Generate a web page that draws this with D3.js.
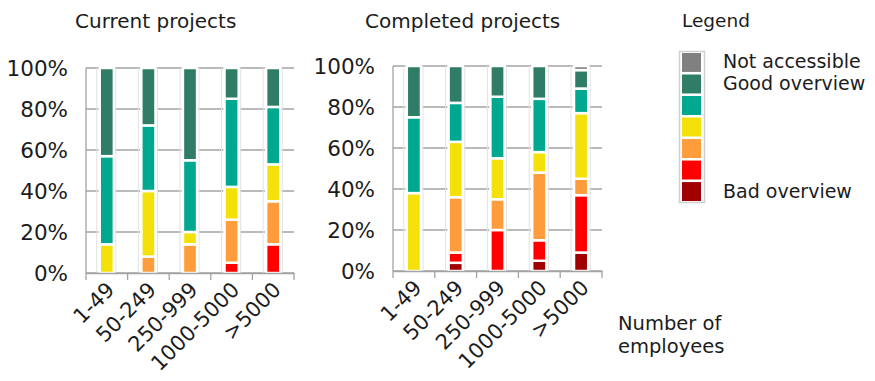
<!DOCTYPE html>
<html>
<head>
<meta charset="utf-8">
<script src="https://cdn.jsdelivr.net/npm/d3@7"></script>
<style>
  body { margin: 0; background: #fff; }
  svg { display: block; font-family: "DejaVu Sans", Verdana, sans-serif; fill: #1c1c1c; }
</style>
</head>
<body>
<svg id="chart" width="875" height="381"></svg>
<script>
// Company size groups
const categories = ["1-49", "50-249", "250-999", "1000-5000", ">5000"];

// Series, bottom to top of each stack (percent of answers)
const seriesNames = ["Bad overview", "red", "orange", "yellow", "teal", "Good overview", "Not accessible"];
const seriesColors = ["#a00000", "#ff0000", "#ff9d3c", "#f5e10a", "#00a88f", "#2f7d66", "#808080"];

// Current projects
const currentBad      = [0, 0, 0, 0, 0];
const currentRed      = [0, 0, 0, 5, 14];
const currentOrange   = [0, 8, 14, 21, 21];
const currentYellow   = [14, 32, 6, 16, 18];
const currentTeal     = [43, 32, 35, 43, 28];
const currentGood     = [43, 28, 45, 15, 19];
const currentNoAccess = [0, 0, 0, 0, 0];

// Completed projects
const completedBad      = [0, 4, 0, 5, 9];
const completedRed      = [0, 5, 20, 10, 28];
const completedOrange   = [0, 27, 15, 33, 8];
const completedYellow   = [38, 27, 20, 10, 32];
const completedTeal     = [37, 19, 30, 26, 12];
const completedGood     = [25, 18, 15, 16, 9];
const completedNoAccess = [0, 0, 0, 0, 2];

const yTicks = [0, 20, 40, 60, 80, 100];
const legendLabels = {0: "Bad overview", 5: "Good overview", 6: "Not accessible"};

const svg = d3.select("#chart");

// build a row-per-category table for d3.stack
function table(cols){
  return categories.map((c, i) => {
    let row = {cat: c};
    seriesNames.forEach((s, k) => row[s] = cols[k][i]);
    return row;
  });
}

function drawPanel(opts){
  const g = svg.append("g");
  const x = d3.scaleBand().domain(categories).range(opts.xr).padding(0);
  const y = d3.scaleLinear().domain([0, 100]).range(opts.yr);
  const barW = x.bandwidth() * 0.34;

  // title
  g.append("text").attr("x", opts.titleX).attr("y", 28)
    .attr("font-size", 20).text(opts.title);

  // horizontal grid
  g.append("g").selectAll("line").data(yTicks).join("line")
    .attr("x1", opts.xr[0]).attr("x2", opts.xr[1])
    .attr("y1", d => y(d)).attr("y2", d => y(d))
    .attr("stroke", "#a3a3a3").attr("stroke-width", 1.3);

  // faint vertical lines beside the bars
  const vx = [];
  categories.forEach(c => {
    const cx = x(c) + x.bandwidth() / 2;
    vx.push(cx - barW / 2 - 3, cx + barW / 2 + 2);
  });
  g.append("g").selectAll("line").data(vx).join("line")
    .attr("x1", d => d).attr("x2", d => d)
    .attr("y1", y(100)).attr("y2", y(0))
    .attr("stroke", "#e2e2e2").attr("stroke-width", 1);

  // y axis line + labels
  g.append("line").attr("x1", opts.xr[0]).attr("x2", opts.xr[0])
    .attr("y1", y(100)).attr("y2", y(0)).attr("stroke", "#a3a3a3").attr("stroke-width", 1.3);
  g.append("g").selectAll("text").data(yTicks).join("text")
    .attr("x", opts.xr[0] - 18).attr("y", d => y(d) + 8)
    .attr("text-anchor", "end").attr("font-size", 21.5)
    .text(d => d + "%");

  // stacked bars
  const stacked = d3.stack().keys(seriesNames)(table(opts.cols));
  g.append("g").selectAll("g").data(stacked).join("g")
    .attr("fill", (d, i) => seriesColors[i])
    .selectAll("rect").data(d => d.filter(p => p[1] > p[0])).join("rect")
    .attr("x", d => x(d.data.cat) + x.bandwidth() / 2 - barW / 2)
    .attr("width", barW)
    .attr("y", d => y(d[1]))
    .attr("height", d => y(d[0]) - y(d[1]))
    .attr("stroke", "#fff").attr("stroke-width", 2.5);

  // x axis: line, ticks at band edges, rotated labels
  const xAxis = g.append("g").attr("transform", `translate(0,${y(0)})`)
    .call(d3.axisBottom(x).tickSize(0).tickFormat(""));
  xAxis.select(".domain").attr("stroke", "#a3a3a3").attr("stroke-width", 1.3);
  const edges = categories.map(c => x(c)).concat([opts.xr[1]]);
  g.append("g").selectAll("line").data(edges).join("line")
    .attr("x1", d => d).attr("x2", d => d)
    .attr("y1", y(0)).attr("y2", y(0) + 7)
    .attr("stroke", "#a3a3a3").attr("stroke-width", 1.3);
  g.append("g").selectAll("text").data(categories).join("text")
    .attr("transform", c => `translate(${x(c) + x.bandwidth() / 2 + 9},${y(0) + 18}) rotate(-45)`)
    .attr("text-anchor", "end").attr("font-size", 21)
    .text(c => c);
}

drawPanel({
  title: "Current projects", titleX: 75,
  xr: [86, 294], yr: [273, 68],
  cols: [currentBad, currentRed, currentOrange, currentYellow, currentTeal, currentGood, currentNoAccess]
});
drawPanel({
  title: "Completed projects", titleX: 365,
  xr: [393, 602], yr: [271, 66],
  cols: [completedBad, completedRed, completedOrange, completedYellow, completedTeal, completedGood, completedNoAccess]
});

// legend
const lg = svg.append("g");
lg.append("text").attr("x", 682).attr("y", 27).attr("font-size", 18.5).text("Legend");
lg.append("rect").attr("x", 679.5).attr("y", 51.5).attr("width", 25).attr("height", 151)
  .attr("fill", "#fff").attr("stroke", "#d0d0d0").attr("stroke-width", 1.5);
const order = d3.range(seriesNames.length).reverse();
const ly = d3.scaleBand().domain(order).range([53, 201]).paddingInner(0.12);
lg.selectAll("rect.sw").data(order).join("rect").attr("class", "sw")
  .attr("x", 682).attr("y", d => ly(d)).attr("width", 19).attr("height", ly.bandwidth())
  .attr("fill", d => seriesColors[d]);
lg.selectAll("text.lab").data(order.filter(d => legendLabels[d])).join("text").attr("class", "lab")
  .attr("x", 723).attr("y", d => ly(d) + ly.bandwidth() / 2 + 6)
  .attr("font-size", 19).text(d => legendLabels[d]);

// axis caption
svg.append("text").attr("x", 618).attr("y", 330).attr("font-size", 19.5).text("Number of");
svg.append("text").attr("x", 618).attr("y", 353).attr("font-size", 19.5).text("employees");
</script>
</body>
</html>
